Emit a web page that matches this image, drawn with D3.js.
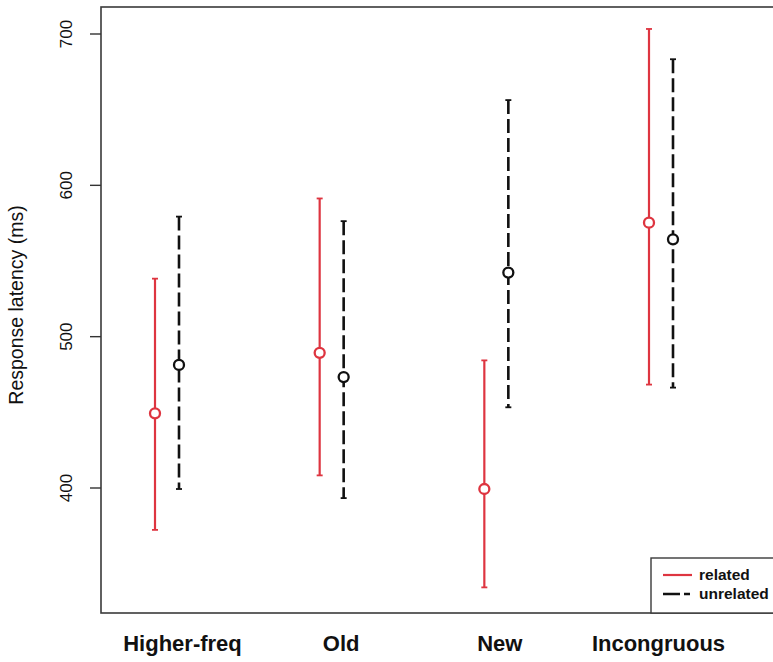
<!DOCTYPE html>
<html>
<head>
<meta charset="utf-8">
<script src="https://cdn.jsdelivr.net/npm/d3@7/dist/d3.min.js"></script>
<style>
  html, body { margin: 0; padding: 0; background: #fff; }
  svg { display: block; }
</style>
</head>
<body>
<svg id="chart" width="773" height="662"></svg>
<script>
// ---- data ----
const categories = ["Higher-freq", "Old", "New", "Incongruous"];
const relatedMean  = [449, 489, 399, 575];
const relatedLow   = [372, 408, 334, 468];
const relatedHigh  = [538, 591, 484, 703];
const unrelatedMean = [481, 473, 542, 564];
const unrelatedLow  = [399, 393, 453, 466];
const unrelatedHigh = [579, 576, 656, 683];
const yTicks = [400, 500, 600, 700];
const seriesNames = ["related", "unrelated"];

// ---- layout ----
const W = 773, H = 662;
const plotLeft = 101, plotTop = 7, plotBottom = 613, plotRight = 800;
const red = "#de3540";
const black = "#111";
const font = "Liberation Sans, Arial, sans-serif";

const svg = d3.select("#chart");

const y = d3.scaleLinear().domain([400, 700]).range([487.5, 33.5]);
const x = d3.scalePoint().domain(categories).range([167, 661]);
const xLab = d3.scalePoint().domain(categories).range([182, 658]);
const offset = 12;

// frame
svg.append("rect")
  .attr("x", plotLeft).attr("y", plotTop)
  .attr("width", plotRight - plotLeft).attr("height", plotBottom - plotTop)
  .attr("fill", "none").attr("stroke", "#3a3a3a").attr("stroke-width", 1.6);

// y axis
const yAxis = d3.axisLeft(y).tickValues(yTicks).tickSize(11);
const gy = svg.append("g").attr("transform", `translate(${plotLeft},0)`).call(yAxis);
gy.select(".domain").remove();
gy.selectAll(".tick line").attr("stroke", "#333").attr("stroke-width", 1.4);
gy.selectAll(".tick text")
  .attr("font-family", font)
  .attr("font-size", 17)
  .attr("fill", "#111")
  .attr("text-anchor", "middle")
  .attr("x", null)
  .attr("dy", "0.35em")
  .attr("transform", "translate(-35,0) rotate(-90)");

// y title
svg.append("text")
  .attr("transform", `translate(23,${305}) rotate(-90)`)
  .attr("text-anchor", "middle")
  .attr("font-family", font)
  .attr("font-size", 19.5)
  .attr("fill", "#111")
  .text("Response latency (ms)");

// x axis labels
const xAxis = d3.axisBottom(xLab).tickSize(0).tickPadding(22);
const gx = svg.append("g").attr("transform", `translate(0,${plotBottom})`).call(xAxis);
gx.select(".domain").remove();
gx.selectAll(".tick text")
  .attr("font-family", font)
  .attr("font-size", 22)
  .attr("font-weight", "bold")
  .attr("fill", "#111");

// build series
const series = [
  { name: seriesNames[0], color: red, dx: -offset, dash: null, width: 2.2, legendDash: null,
    pts: categories.map((c, i) => ({ c, m: relatedMean[i], lo: relatedLow[i], hi: relatedHigh[i] })) },
  { name: seriesNames[1], color: black, dx: offset, dash: "14,5", width: 2.6, legendDash: "17,4,6,10",
    pts: categories.map((c, i) => ({ c, m: unrelatedMean[i], lo: unrelatedLow[i], hi: unrelatedHigh[i] })) }
];

series.forEach(s => {
  const g = svg.append("g");
  g.selectAll("line.bar").data(s.pts).join("line")
    .attr("x1", d => x(d.c) + s.dx).attr("x2", d => x(d.c) + s.dx)
    .attr("y1", d => y(d.hi)).attr("y2", d => y(d.lo))
    .attr("stroke", s.color).attr("stroke-width", s.width)
    .attr("stroke-dasharray", s.dash);
  ["hi", "lo"].forEach(k => {
    g.selectAll("line.cap" + k).data(s.pts).join("line")
      .attr("x1", d => x(d.c) + s.dx - 3).attr("x2", d => x(d.c) + s.dx + 3)
      .attr("y1", d => y(d[k])).attr("y2", d => y(d[k]))
      .attr("stroke", s.color).attr("stroke-width", 1.8);
  });
  g.selectAll("circle").data(s.pts).join("circle")
    .attr("cx", d => x(d.c) + s.dx).attr("cy", d => y(d.m))
    .attr("r", 5)
    .attr("fill", "#fff")
    .attr("stroke", s.color).attr("stroke-width", 2.3);
});

// legend
const lg = svg.append("g");
lg.append("rect")
  .attr("x", 651).attr("y", 558).attr("width", 140).attr("height", plotBottom - 558)
  .attr("fill", "#fff").attr("stroke", "#3a3a3a").attr("stroke-width", 1.4);
series.forEach((s, i) => {
  const ly = 575 + i * 19;
  lg.append("line")
    .attr("x1", 663).attr("x2", 692).attr("y1", ly).attr("y2", ly)
    .attr("stroke", s.color).attr("stroke-width", s.width)
    .attr("stroke-dasharray", s.legendDash);
  lg.append("text")
    .attr("x", 699).attr("y", ly).attr("dy", "0.35em")
    .attr("font-family", font)
    .attr("font-size", 15.5).attr("font-weight", "bold")
    .attr("fill", "#111")
    .text(s.name);
});
</script>
</body>
</html>
